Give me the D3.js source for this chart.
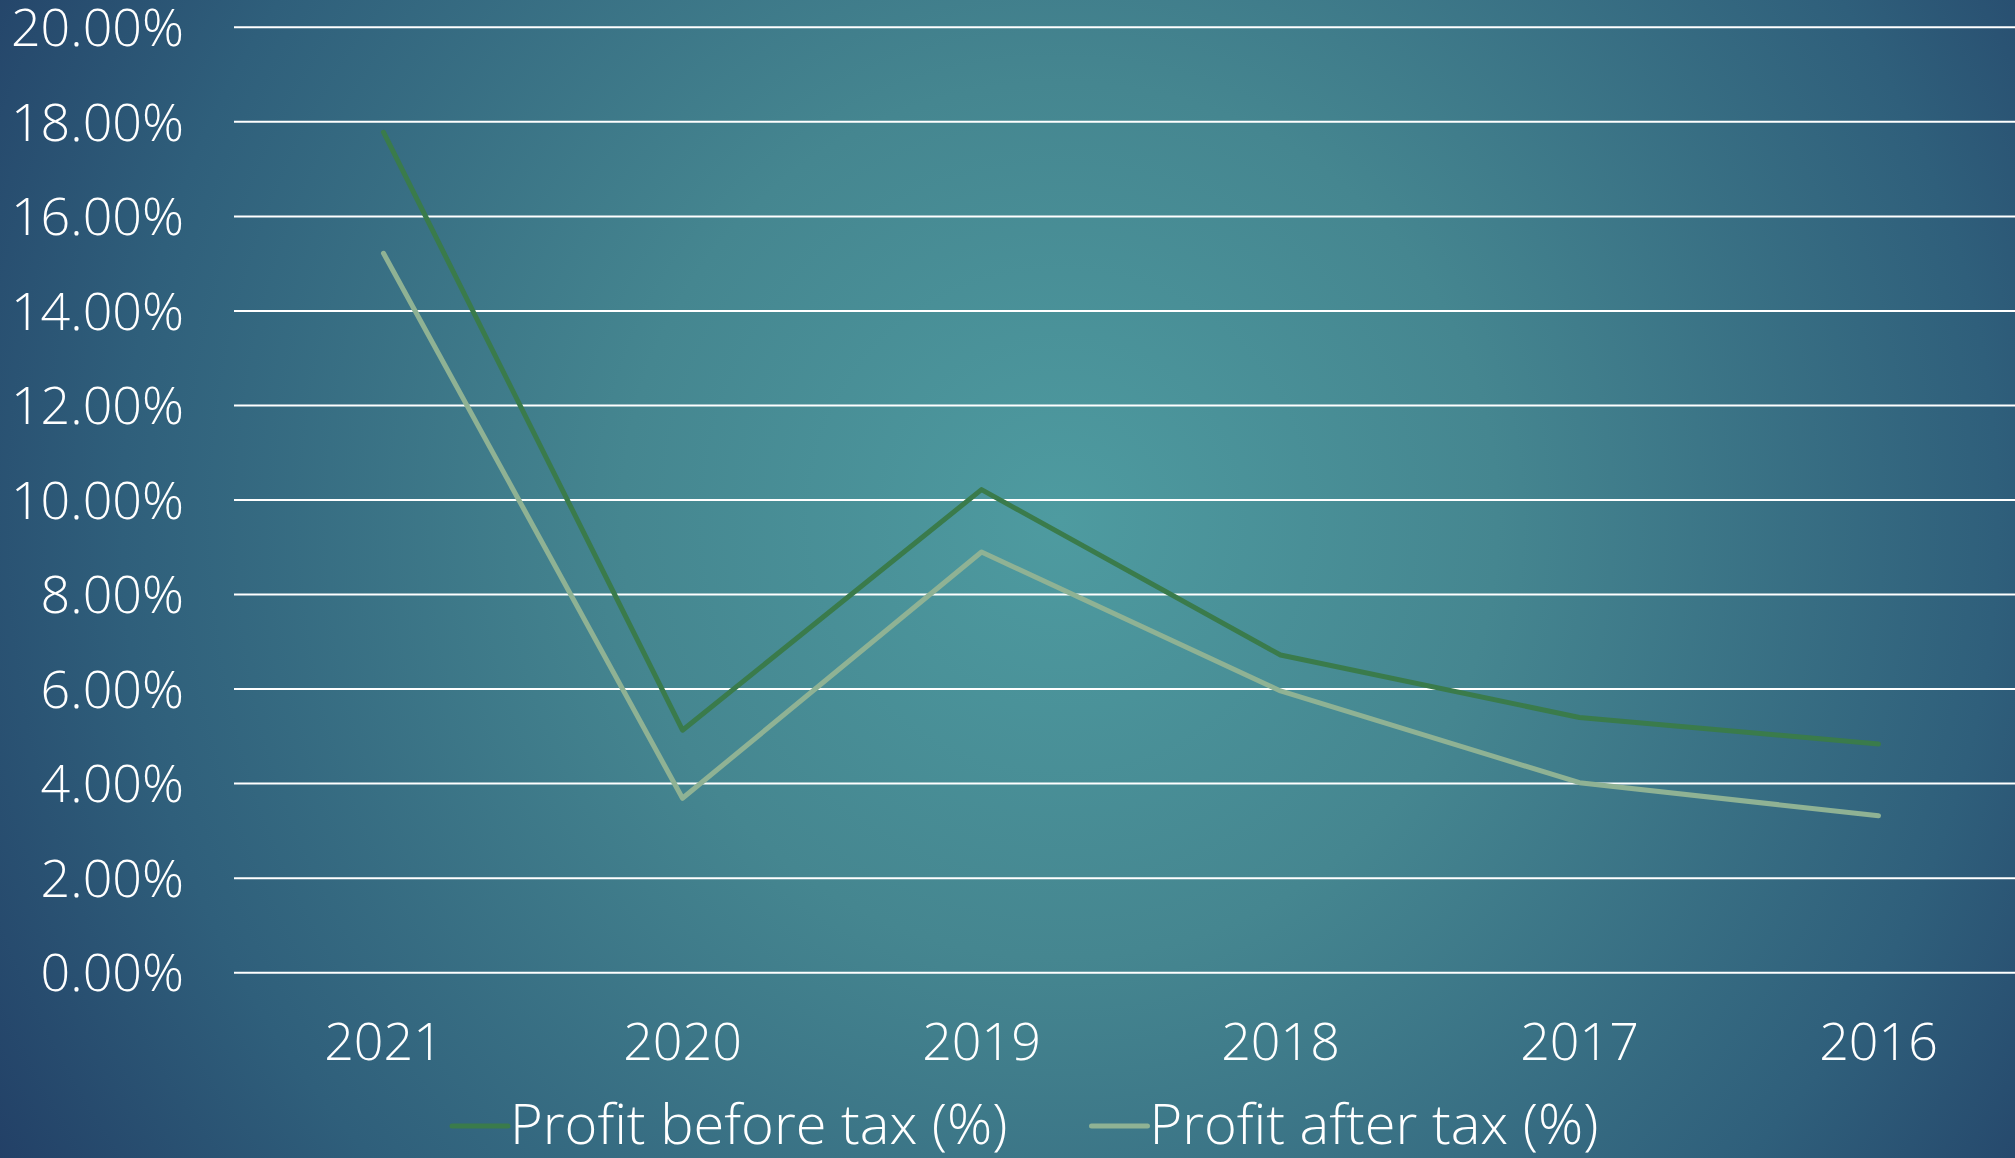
<!DOCTYPE html>
<html>
<head>
<meta charset="utf-8">
<script src="https://cdn.jsdelivr.net/npm/d3@7"></script>
<style>
  body { margin: 0; overflow: hidden; }
  svg { display: block; }
  text { font-family: "Open Sans", "Noto Sans", sans-serif; font-weight: 300; fill: #ffffff; }
</style>
</head>
<body>
<div id="chartDiv"></div>
<script>
var width = 2015;
var height = 1158;

var years = ["2021", "2020", "2019", "2018", "2017", "2016"];
var beforeTax = [17.78, 5.13, 10.22, 6.72, 5.40, 4.84];
var afterTax = [15.22, 3.69, 8.90, 5.96, 4.02, 3.32];
var seriesNames = ["Profit before tax (%)", "Profit after tax (%)"];
var seriesColors = ["#3a7b4b", "#8fb294"];
var yTicks = [0, 2, 4, 6, 8, 10, 12, 14, 16, 18, 20];

var svg = d3.select("#chartDiv").append("svg")
  .attr("width", width)
  .attr("height", height);

// background
var defs = svg.append("defs");
var grad = defs.append("radialGradient")
  .attr("id", "bg")
  .attr("gradientUnits", "userSpaceOnUse")
  .attr("cx", 1060).attr("cy", 520).attr("r", 1250);
grad.append("stop").attr("offset", "0%").attr("stop-color", "#4e9ba0");
grad.append("stop").attr("offset", "35%").attr("stop-color", "#458690");
grad.append("stop").attr("offset", "75%").attr("stop-color", "#2f5f7b");
grad.append("stop").attr("offset", "100%").attr("stop-color", "#223f66");

svg.append("rect")
  .attr("width", width).attr("height", height)
  .attr("fill", "url(#bg)");

var x = d3.scaleBand().domain(years).range([234, 2028]);
var y = d3.scaleLinear().domain([0, 20]).range([972.7, 27.3]);

// gridlines
svg.append("g")
  .selectAll("line")
  .data(yTicks)
  .enter()
  .append("line")
  .attr("x1", 234).attr("x2", width)
  .attr("y1", function(d) { return y(d); })
  .attr("y2", function(d) { return y(d); })
  .attr("stroke", "#ffffff")
  .attr("stroke-width", 2);

// y labels
svg.append("g")
  .selectAll("text")
  .data(yTicks)
  .enter()
  .append("text")
  .attr("x", 184)
  .attr("y", function(d) { return y(d); })
  .attr("dy", "0.36em")
  .attr("text-anchor", "end")
  .attr("font-size", 52)
  .text(function(d) { return d.toFixed(2) + "%"; });

// x labels
svg.append("g")
  .selectAll("text")
  .data(years)
  .enter()
  .append("text")
  .attr("x", function(d) { return x(d) + x.bandwidth() / 2; })
  .attr("y", 1060)
  .attr("text-anchor", "middle")
  .attr("font-size", 52)
  .text(function(d) { return d; });

// lines
var line = d3.line()
  .x(function(d, i) { return x(years[i]) + x.bandwidth() / 2; })
  .y(function(d) { return y(d); });

[beforeTax, afterTax].forEach(function(values, i) {
  svg.append("path")
    .datum(values)
    .attr("d", line)
    .attr("fill", "none")
    .attr("stroke", seriesColors[i])
    .attr("stroke-width", 5)
    .attr("stroke-linejoin", "round")
    .attr("stroke-linecap", "round");
});

// legend
var legendX = 452;
seriesNames.forEach(function(name, i) {
  var g = svg.append("g").attr("transform", "translate(" + legendX + ",1126)");
  g.append("line")
    .attr("x1", 0).attr("x2", 56)
    .attr("y1", 0).attr("y2", 0)
    .attr("stroke", seriesColors[i])
    .attr("stroke-width", 5)
    .attr("stroke-linecap", "round");
  var t = g.append("text")
    .attr("x", 58)
    .attr("y", 18)
    .attr("font-size", 56)
    .text(name);
  legendX += 58 + t.node().getComputedTextLength() + 84;
});
</script>
</body>
</html>
